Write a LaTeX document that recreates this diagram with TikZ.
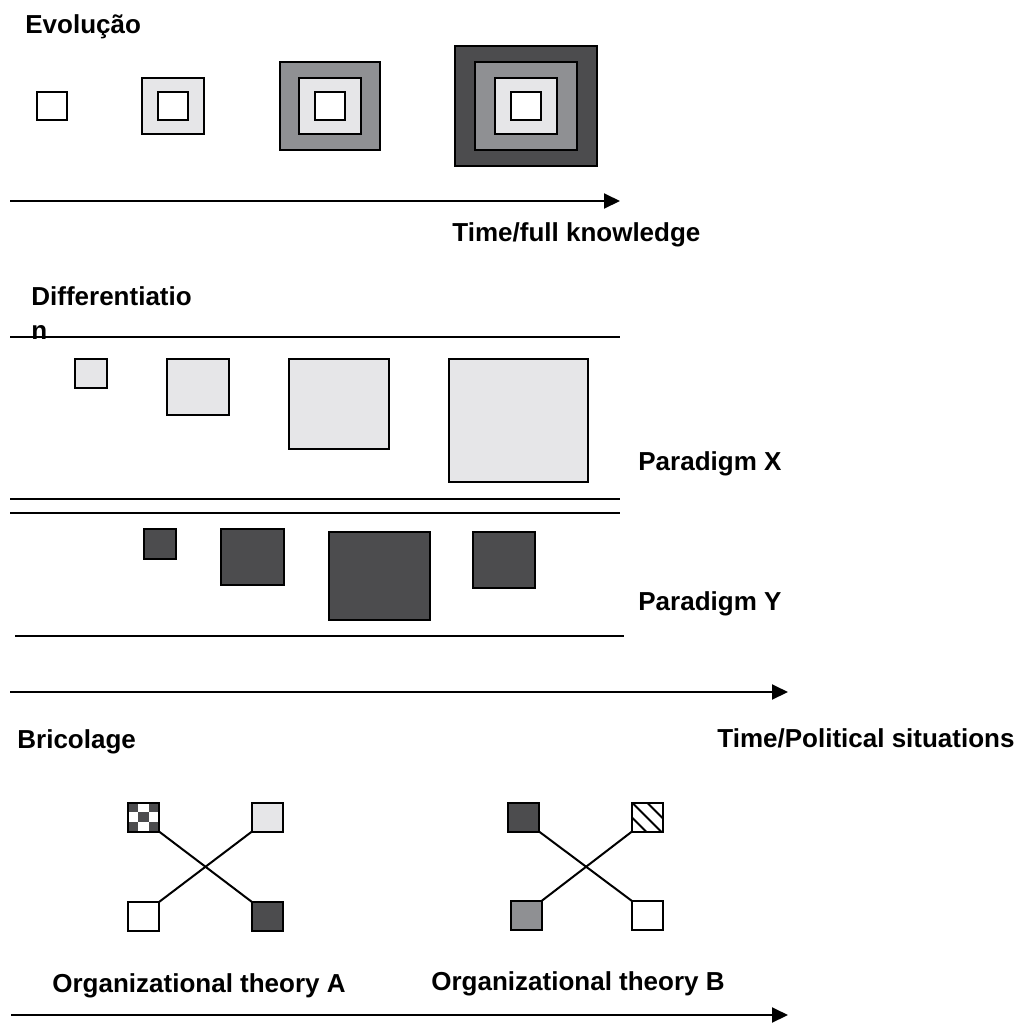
\documentclass[tikz,border=0pt]{standalone}
\usepackage{fontspec}
\setmainfont{Liberation Sans}
\usetikzlibrary{arrows.meta,calc}

\definecolor{lightgr}{HTML}{E6E6E8}
\definecolor{midgr}{HTML}{8F9093}
\definecolor{darkgr}{HTML}{4C4C4E}

\begin{document}
\begin{tikzpicture}[x=0.5pt,y=-0.5pt,
	box/.style={draw,line width=1pt,inner sep=0pt,outer sep=0pt},
	sq/.style 2 args={minimum width=#1*0.5pt,minimum height=#2*0.5pt},
	cell/.style={box,sq={31}{29}},
	lbl/.style={anchor=base west,inner sep=0pt,font=\fontsize{13}{17}\selectfont\bfseries},
	timeline/.style={line width=1pt,-{Triangle[length=8pt,width=7.5pt]}},
	lane/.style={line width=1pt}]
	\useasboundingbox (0,0) rectangle (1022,1024);
	
	% Evolucao
	\node[lbl] (evo) at (25,33) {Evolução};
	
	\node[box,sq={30}{28},fill=white] (e1) at (52,106) {};
	
	\node[box,sq={62}{56},fill=lightgr] (e2b) at (173,106) {};
	\node[box,sq={30}{28},fill=white] (e2a) at (173,106) {};
	
	\node[box,sq={100}{88},fill=midgr] (e3c) at (330,106) {};
	\node[box,sq={62}{56},fill=lightgr] (e3b) at (330,106) {};
	\node[box,sq={30}{28},fill=white] (e3a) at (330,106) {};
	
	\node[box,sq={142}{120},fill=darkgr] (e4d) at (526,106) {};
	\node[box,sq={102}{88},fill=midgr] (e4c) at (526,106) {};
	\node[box,sq={62}{56},fill=lightgr] (e4b) at (526,106) {};
	\node[box,sq={30}{28},fill=white] (e4a) at (526,106) {};
	
	\coordinate (t1s) at (10,201);
	\coordinate (t1e) at (620,201);
	\draw[timeline] (t1s) -- (t1e);
	\node[lbl] (t1) at (452,241) {Time/full knowledge};
	
	% Differentiation
	\node[lbl] (diff) at (31,305) {Differentiatio};
	\node[lbl] (diffn) at (31,339) {n};
	
	\draw[lane] (10,337) -- (620,337);
	\draw[lane] (10,499) -- (620,499);
	\draw[lane] (10,513) -- (620,513);
	\draw[lane] (15,636) -- (624,636);
	
	\node[box,anchor=north,sq={32}{29},fill=lightgr] (px1) at (91,359) {};
	\node[box,anchor=north,sq={62}{56},fill=lightgr] (px2) at (198,359) {};
	\node[box,anchor=north,sq={100}{90},fill=lightgr] (px3) at (339,359) {};
	\node[box,anchor=north,sq={139}{123},fill=lightgr] (px4) at (518.5,359) {};
	\node[lbl] (parx) at (638,470) {Paradigm X};
	
	\node[box,anchor=north,sq={32}{30},fill=darkgr] (py1) at (160,529) {};
	\node[box,anchor=north,sq={63}{56},fill=darkgr] (py2) at (252.5,529) {};
	\node[box,anchor=north,sq={101}{88},fill=darkgr] (py3) at (379.5,532) {};
	\node[box,anchor=north,sq={62}{56},fill=darkgr] (py4) at (504,532) {};
	\node[lbl] (pary) at (638,610) {Paradigm Y};
	
	\coordinate (t2s) at (10,692);
	\coordinate (t2e) at (788,692);
	\draw[timeline] (t2s) -- (t2e);
	\node[lbl] (t2) at (717,747) {Time/Political situations};
	
	% Bricolage
	\node[lbl] (bric) at (17,748) {Bricolage};
	
	\node[cell,fill=darkgr] (a1) at (143.5,817) {};
	\foreach \i/\j in {1/0,0/1,2/1,1/2}
		\fill[white] ($(a1.north west)+(\i*10.33,\j*9.67)$) rectangle +(10.33,9.67);
	\draw[line width=1pt] (a1.north west) rectangle (a1.south east);
	\node[cell,fill=lightgr] (a2) at (267.5,817) {};
	\node[cell,fill=white] (a3) at (143.5,916.5) {};
	\node[cell,fill=darkgr] (a4) at (267.5,916.5) {};
	\draw[line width=1pt] (a1.south east) -- (a4.north west);
	\draw[line width=1pt] (a3.north east) -- (a2.south west);
	
	\node[cell,fill=darkgr] (b1) at (523.5,817) {};
	\node[cell,fill=white] (b2) at (647.5,817) {};
	\begin{scope}
		\clip (b2.north west) rectangle (b2.south east);
		\foreach \o in {-15,0,15}
			\draw[line width=1pt] ($(b2.north west)+(\o,0)$) -- +(45,45);
	\end{scope}
	\draw[line width=1pt] (b2.north west) rectangle (b2.south east);
	\node[cell,fill=midgr] (b3) at (526,915.5) {};
	\node[cell,fill=white] (b4) at (647.5,915.5) {};
	\draw[line width=1pt] (b1.south east) -- (b4.north west);
	\draw[line width=1pt] (b3.north east) -- (b2.south west);
	
	\node[lbl] (thA) at (52,992) {Organizational theory A};
	\node[lbl] (thB) at (431,990) {Organizational theory B};
	
	\coordinate (t3s) at (11,1015);
	\coordinate (t3e) at (788,1015);
	\draw[timeline] (t3s) -- (t3e);
	
\end{tikzpicture}
\end{document}
